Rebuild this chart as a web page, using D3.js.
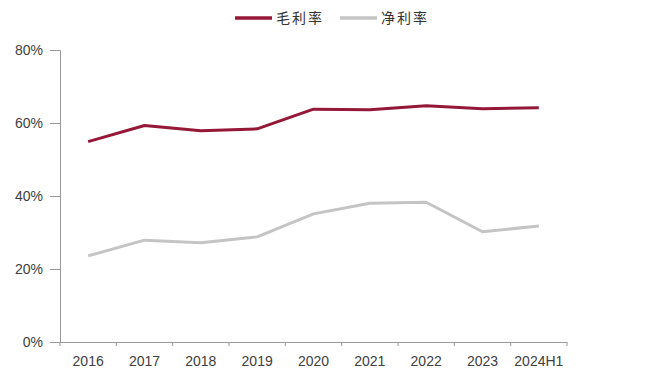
<!DOCTYPE html>
<html>
<head>
<meta charset="utf-8">
<script src="https://cdn.jsdelivr.net/npm/d3@7"></script>
<style>
  body { margin: 0; background: #fff; }
  svg { display: block; }
</style>
</head>
<body>
<svg width="648" height="374"></svg>
<script>
var years = ["2016", "2017", "2018", "2019", "2020", "2021", "2022", "2023", "2024H1"];
var grossMargin = [54.9, 59.3, 57.9, 58.4, 63.8, 63.6, 64.7, 63.9, 64.2];
var netMargin = [23.6, 27.9, 27.2, 28.8, 35.1, 38.0, 38.3, 30.2, 31.8];
var yTicks = [0, 20, 40, 60, 80];
var seriesNames = ["毛利率", "净利率"];

var colors = ["#951838", "#c4c4c4"];

var svg = d3.select("svg"),
    margin = { left: 60, right: 81, top: 50, bottom: 32 },
    width = +svg.attr("width"),
    height = +svg.attr("height");

var x = d3.scaleBand()
    .domain(years)
    .range([margin.left, width - margin.right]);

var y = d3.scaleLinear()
    .domain([0, 80])
    .range([height - margin.bottom, margin.top]);

// y axis
var yAxis = svg.append("g")
    .attr("transform", "translate(" + margin.left + ",0)")
    .call(d3.axisLeft(y).tickValues(yTicks).tickSize(10).tickPadding(7)
        .tickFormat(function(d) { return d + "%"; }));

// x axis
var xAxis = svg.append("g")
    .attr("transform", "translate(0," + (height - margin.bottom) + ")")
    .call(d3.axisBottom(x).tickSize(0).tickPadding(14));

xAxis.selectAll(".tick-sep")
    .data(years.concat(["end"]))
    .enter()
    .append("line")
    .attr("class", "tick-sep")
    .attr("x1", function(d, i) { return i < years.length ? x(d) : x.range()[1]; })
    .attr("x2", function(d, i) { return i < years.length ? x(d) : x.range()[1]; })
    .attr("y1", 0)
    .attr("y2", 4)
    .attr("stroke", "#999");

[yAxis, xAxis].forEach(function(a) {
    a.select(".domain").attr("stroke", "#999");
    a.selectAll(".tick line").attr("stroke", "#999");
    a.selectAll("text")
        .attr("fill", "#404040")
        .style("font-family", "'Liberation Sans', Arial, sans-serif")
        .style("font-size", "14px");
});

var line = d3.line()
    .x(function(d, i) { return x(years[i]) + x.bandwidth() / 2; })
    .y(function(d) { return y(d); });

[netMargin, grossMargin].forEach(function(series) {
    svg.append("path")
        .datum(series)
        .attr("fill", "none")
        .attr("stroke", series === grossMargin ? colors[0] : colors[1])
        .attr("stroke-width", 3)
        .attr("stroke-linejoin", "round")
        .attr("d", line);
});

// legend
var legend = svg.append("g").attr("transform", "translate(235,18)");
var legendX = [0, 105];
seriesNames.forEach(function(name, i) {
    var g = legend.append("g").attr("transform", "translate(" + legendX[i] + ",0)");
    g.append("line")
        .attr("x1", 0).attr("x2", 37)
        .attr("stroke", colors[i])
        .attr("stroke-width", 3.5);
    g.append("text")
        .attr("x", 41)
        .attr("y", 5)
        .attr("fill", "#333")
        .style("font-family", "'Noto Sans CJK SC', sans-serif")
        .style("font-size", "14px")
        .style("letter-spacing", "2px")
        .text(name);
});
</script>
</body>
</html>
